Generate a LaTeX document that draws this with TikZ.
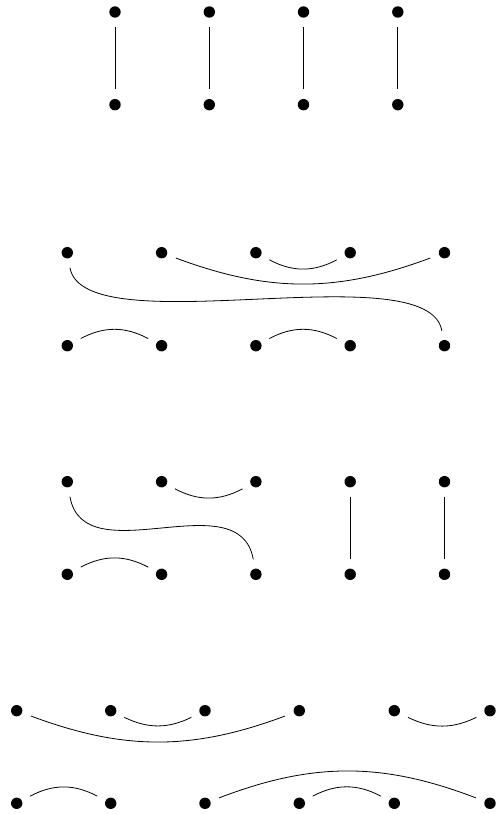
\documentclass[tikz,border=0pt]{standalone}
\begin{document}
\begin{tikzpicture}[x=1pt,y=1pt,
  dot/.style={circle,fill=black,inner sep=0pt,minimum size=11.4pt,outer sep=9.5pt},
  strand/.style={line width=0.8pt},
  dipbig/.style={strand,bend right=20.5},
  dipsmall/.style={strand,bend right=28},
  humpbig/.style={strand,bend left=21},
  humpsmall/.style={strand,bend left=28},
  scurve/.style={strand,out=-80,in=100,distance=80pt}
]
\useasboundingbox (0,0) rectangle (497,814);
% row 1
\foreach \i/\x in {1/115,2/209.3,3/303.5,4/397.8} {
  \node[dot] (a\i) at (\x,802) {};
  \node[dot] (b\i) at (\x,709.3) {};
}
\foreach \i in {1,...,4} { \draw[strand] (a\i) -- (b\i); }
% row 2
\foreach \i/\x in {1/67.3,2/161.6,3/255.9,4/350.2,5/444.5} {
  \node[dot] (c\i) at (\x,561.3) {};
  \node[dot] (d\i) at (\x,468.3) {};
}
\draw[scurve] (c1) to (d5);
\draw[dipbig] (c2) to (c5);
\draw[dipsmall] (c3) to (c4);
\draw[humpsmall] (d1) to (d2);
\draw[humpsmall] (d3) to (d4);
% row 3
\foreach \i/\x in {1/67.3,2/161.6,3/255.9,4/350.2,5/444.5} {
  \node[dot] (e\i) at (\x,332.3) {};
  \node[dot] (f\i) at (\x,239.7) {};
}
\draw[scurve] (e1) to (f3);
\draw[dipsmall] (e2) to (e3);
\draw[humpsmall] (f1) to (f2);
\draw[strand] (e4) -- (f4);
\draw[strand] (e5) -- (f5);
% row 4
\foreach \i/\x in {1/16.7,2/110.7,3/205,4/299.3,5/394.3,6/490} {
  \node[dot] (g\i) at (\x,103.3) {};
  \node[dot] (h\i) at (\x,10.7) {};
}
\draw[dipbig] (g1) to (g4);
\draw[dipsmall,bend right=26] (g2) to (g3);
\draw[dipsmall,bend right=26] (g5) to (g6);
\draw[humpsmall] (h1) to (h2);
\draw[humpbig] (h3) to (h6);
\draw[humpsmall] (h4) to (h5);
\end{tikzpicture}
\end{document}
